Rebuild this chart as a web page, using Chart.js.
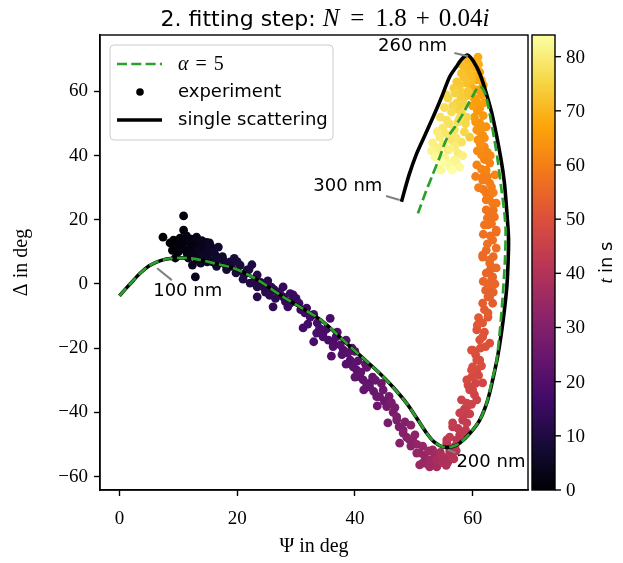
<!DOCTYPE html>
<html>
<head>
<meta charset="utf-8">
<script src="https://cdn.jsdelivr.net/npm/chart.js@4.4.0/dist/chart.umd.min.js"></script>
<style>
  html, body { margin: 0; padding: 0; background: #fff; }
  canvas { display: block; }
</style>
</head>
<body>
<canvas id="chart" width="623" height="563" style="width:623px;height:563px"></canvas>
<script>
// ---- values ----
const xTicks = [0, 20, 40, 60];
const yTicks = [-60, -40, -20, 0, 20, 40, 60];
const cbTicks = [0, 10, 20, 30, 40, 50, 60, 70, 80];
const tMax = 84;

// single scattering curve
const psiSingle = [0, 1.2, 2.4, 3.6, 5.0, 6.4, 8.0, 9.8, 11.5, 13.5, 16.0, 19.4, 23.0, 27.8, 31.0, 34.4, 38.6, 41.0, 44.2, 46.5,
  48.8, 50.5, 52.2, 53.5, 55.0, 56.5, 57.8, 59.5, 61.2, 62.5, 63.4, 64.3, 64.9, 65.4, 65.8, 66.0, 66.1, 65.9, 65.4, 64.8,
  63.4, 62.3, 61.2, 60.2, 59.2, 58.2, 57.2, 56.1, 54.8, 53.3, 51.8, 50.5, 49.2, 47.9];
const deltaSingle = [-3.7, -1.2, 1.2, 3.5, 5.6, 6.9, 7.8, 8.1, 8.1, 7.6, 6.5, 4.9, 1.8, -4.0, -7.5, -11.5, -18.5, -22.5, -27.8, -32.2,
  -37.2, -41.8, -46.5, -49.3, -50.8, -50.7, -49.6, -46.6, -42.4, -36.5, -29.9, -22.0, -15.0, -8.0, -1.0, 6.0, 13.7, 20.0, 31.4, 39.0,
  52.1, 59.5, 65.6, 69.2, 71.3, 70.2, 67.6, 64.6, 58.6, 52.1, 46.0, 40.7, 34.0, 25.6];

// alpha = 5 curve
const psiAlpha = [0, 1.2, 2.4, 3.6, 5.0, 6.4, 8.0, 9.8, 11.5, 13.5, 16.0, 19.4, 23.0, 27.8, 31.0, 34.4, 38.6, 41.0, 44.2, 46.5,
  48.8, 50.5, 52.2, 53.5, 55.0, 56.5, 57.8, 59.5, 61.2, 62.4, 63.3, 64.0, 64.6, 65.1, 65.5, 65.6, 65.4, 64.9, 64.3, 63.7,
  63.0, 62.3, 61.6, 60.9, 60.2, 59.3, 58.4, 57.0, 55.5, 54.4, 53.3, 52.0, 50.7];
const deltaAlpha = [-3.7, -1.2, 1.2, 3.5, 5.6, 6.9, 7.8, 8.1, 8.1, 7.6, 6.5, 4.9, 1.8, -4.0, -7.5, -11.5, -18.5, -22.5, -27.8, -32.2,
  -37.2, -41.8, -46.5, -49.3, -50.8, -50.7, -49.6, -46.6, -42.4, -37.0, -30.0, -24.7, -15.0, -4.0, 8.0, 16.8, 22.0, 29.3, 38.0, 44.9,
  52.0, 58.3, 61.2, 61.3, 59.2, 56.3, 53.2, 49.0, 44.9, 39.5, 34.5, 28.5, 22.0];

// experiment (Psi, Delta, time in s)
const psiExp = [7.4, 9.2, 8.6, 10.9, 10.9, 9.7, 10.3, 10.7, 10.0, 9.5, 11.4, 12.2, 11.2, 12.0, 13.1, 13.7, 12.7, 11.7, 13.6, 14.4,
  13.2, 12.4, 12.9, 14.0, 14.2, 15.1, 15.8, 15.3, 16.3, 14.9, 15.8, 16.8, 17.5, 16.5, 17.6, 18.8, 18.2, 19.5, 20.5, 19.8,
  21.7, 21.0, 22.5, 22.2, 23.4, 23.4, 23.4, 24.5, 25.2, 25.5, 26.1, 26.3, 27.8, 27.8, 28.6, 29.5, 29.0, 29.5, 30.5, 31.5,
  31.2, 32.4, 33.5, 33.6, 34.6, 35.8, 34.6, 36.3, 36.3, 37.0, 38.0, 38.5, 39.2, 39.7, 40.3, 40.0, 40.8, 41.4, 42.0, 42.5,
  42.5, 43.7, 43.5, 44.2, 44.8, 45.4, 45.6, 46.2, 47.1, 47.1, 48.2, 47.6, 48.2, 49.3, 49.8, 49.5, 50.5, 51.0, 51.5, 51.0,
  53.2, 52.7, 52.7, 53.9, 53.9, 54.9, 54.9, 55.5, 56.1, 56.1, 56.8, 55.6, 55.6, 57.3, 56.1, 56.6, 58.3, 56.6, 58.3, 59.0,
  57.8, 59.0, 59.0, 58.1, 60.7, 59.5, 60.0, 61.7, 59.0, 59.8, 60.7, 59.8, 61.2, 60.0, 60.7, 60.0, 59.8, 62.9, 61.2, 61.7,
  60.7, 60.8, 61.2, 61.7, 62.6, 62.6, 61.7, 63.4, 62.9, 62.6, 62.9, 62.6, 63.2, 63.4, 62.3, 64.0, 62.9, 62.9, 61.7, 61.7,
  64.0, 63.4, 64.0, 64.0, 62.6, 62.0, 63.7, 62.9, 62.3, 64.0, 63.4, 62.3, 62.3, 63.2, 62.9, 61.7, 61.7, 62.3, 60.7, 62.9,
  61.5, 62.0, 60.9, 61.7, 60.7, 61.2, 60.3, 61.2, 60.7, 61.5, 61.2, 60.9, 60.7, 60.3, 60.0, 59.8, 58.6, 59.5, 58.1, 59.0,
  57.3, 59.5, 57.8, 57.3, 55.8, 58.1, 58.6, 56.4, 57.5, 55.6, 56.9, 58.1, 54.9, 56.4, 54.4, 55.8, 57.5, 53.9, 56.9, 55.3,
  57.8, 53.6, 56.5,
  9.0, 11.0, 12.5, 13.5, 14.8, 15.5, 16.0, 11.5, 12.8, 14.0, 15.0, 16.8, 13.8, 10.5, 12.0,
  18.0, 19.0, 20.0, 21.2, 22.0, 23.0, 24.0, 24.8, 25.8, 26.5, 27.2, 28.2, 29.0, 30.0, 30.8, 31.8,
  32.0, 33.0, 34.0, 35.2, 35.5, 36.8, 37.5, 37.8, 38.8, 39.5, 40.5, 41.0, 41.8, 42.0, 43.0, 43.2, 44.5, 45.0, 45.8, 46.5,
  46.8, 47.5, 48.5, 48.8,
  49.5, 50.2, 50.5, 51.5, 51.8, 52.2, 52.5, 53.0, 53.5, 54.2, 54.5, 55.2, 55.8, 56.5, 57.2, 57.0,
  57.8, 57.5, 58.8, 58.5, 59.5, 58.6, 59.8, 60.3, 59.2, 60.5, 61.0, 60.3, 61.5, 60.5, 61.3, 62.2, 62.0, 61.0, 62.0, 62.2,
  63.5, 63.8, 61.8, 63.0, 63.5, 62.3,
  62.5, 63.0, 61.8, 63.2, 62.5, 63.5, 62.8, 61.8, 63.5, 62.5, 61.5, 62.0, 60.8, 62.5, 61.3, 62.0, 61.6, 60.5, 61.8, 60.8,
  62.0, 60.2,
  61.8, 60.2, 59.3, 61.0, 58.5, 59.8, 58.9, 57.8, 59.2,
  57.0, 56.6, 57.8, 56.0, 55.2, 57.2, 55.0, 54.2, 56.2, 57.2, 55.8, 54.7,
  58.0, 56.8, 58.8, 57.5, 55.2, 54.5, 56.0, 53.2, 54.0, 58.8, 58.5, 59.6, 60.0, 58.0, 61.5, 59.0, 55.5, 57.0, 58.3, 54.6,
  53.0, 56.2,
  61.0, 60.5, 63.8, 63.0, 61.2, 62.3, 60.0, 61.0,
  36.0, 38.5, 41.5, 43.8, 40.0, 33.0];
const deltaExp = [14.6, 13.7, 12.8, 21.2, 16.8, 12.1, 14.3, 12.5, 10.0, 8.1, 15.0, 14.0, 10.6, 11.2, 14.6, 12.8, 10.0, 8.1, 10.6, 11.2,
  7.5, 5.9, 2.2, 13.5, 8.7, 10.0, 10.9, 12.8, 9.0, 6.9, 6.9, 11.5, 8.5, 5.5, 7.5, 6.9, 4.5, 8.0, 5.9, 3.5,
  4.4, 1.5, 6.0, 0.3, 2.8, -0.9, -4.0, -1.0, 1.0, -3.5, -7.1, -1.8, -4.0, -0.9, -7.1, -3.4, -6.0, -5.0, -6.0, -9.0,
  -13.7, -10.3, -15.3, -12.1, -15.3, -10.7, -16.5, -18.4, -19.5, -15.0, -20.5, -17.5, -23.7, -25.8, -26.8, -21.0, -28.9, -29.9, -26.0, -30.9,
  -32.1, -35.1, -30.0, -35.1, -33.0, -38.2, -43.3, -37.0, -41.4, -42.4, -45.5, -49.6, -46.5, -48.6, -48.6, -44.0, -52.7, -52.6, -55.8, -56.4,
  -51.7, -54.8, -57.0, -57.0, -54.8, -55.5, -53.9, -56.5, -51.7, -52.7, -54.5, -49.6, -48.6, -48.6, -47.7, -44.5, -46.4, -43.3, -42.4, -43.3,
  -40.2, -38.3, -37.1, -36.1, -36.1, -33.0, -33.0, -30.8, -29.9, -29.0, -26.8, -26.8, -23.7, -25.8, -23.7, -20.6, -20.6, -18.4, -17.4, -16.5,
  -14.3, -12.8, -12.2, -12.1, -10.3, -9.0, -6.0, -6.0, -4.0, -4.0, -0.9, -0.3, 1.2, 2.2, 3.4, 5.0, 6.5, 7.5, 8.4, 9.0,
  11.2, 13.7, 16.2, 16.8, 18.4, 18.4, 20.9, 22.4, 23.1, 25.2, 25.2, 26.2, 28.3, 30.2, 31.4, 32.4, 33.3, 35.5, 37.1, 37.7,
  40.2, 42.7, 44.9, 46.4, 48.0, 50.2, 52.0, 54.8, 56.7, 58.9, 66.0, 70.7, 63.6, 67.6, 61.0, 69.2, 67.6, 65.7, 65.7, 62.6,
  63.0, 45.8, 60.4, 56.4, 57.9, 53.3, 47.4, 53.6, 50.5, 51.1, 48.0, 44.2, 48.6, 44.9, 45.8, 41.7, 40.8, 42.4, 38.6, 39.2,
  36.4, 39.6, 35.5,
  10.5, 13.5, 12.5, 11.5, 13.0, 11.8, 10.0, 9.5, 8.8, 10.0, 8.0, 8.0, 6.5, 11.2, 12.8,
  6.0, 5.5, 7.0, 3.0, 4.5, 1.0, 0.5, -2.5, -1.0, -4.5, -2.5, -5.5, -3.0, -4.5, -8.0, -7.5,
  -12.5, -9.5, -13.8, -14.0, -17.5, -16.5, -19.0, -22.0, -21.5, -20.0, -24.0, -27.5, -25.0, -31.5, -29.0, -33.5, -31.0, -36.5, -35.0, -40.0,
  -38.5, -44.5, -43.0, -47.8,
  -50.5, -47.0, -50.0, -50.5, -53.5, -56.0, -52.0, -55.8, -53.0, -56.0, -52.5, -54.5, -55.5, -53.5, -52.0, -50.5,
  -47.0, -45.0, -45.5, -41.0, -40.5, -39.0, -37.5, -34.5, -31.5, -31.0, -28.5, -28.0, -25.5, -22.0, -20.0, -19.5, -15.0, -10.5, -8.0, -2.0,
  -2.5, 0.0, 0.8, 4.5, 8.5, 10.5,
  12.5, 15.0, 15.5, 18.8, 20.5, 23.0, 27.0, 29.5, 28.5, 33.5, 35.8, 38.8, 41.5, 41.0, 43.5, 45.5, 49.0, 50.5, 52.5, 54.0,
  56.5, 58.0,
  62.0, 64.5, 67.0, 68.5, 64.5, 63.5, 69.8, 62.0, 60.0,
  59.5, 55.5, 51.8, 50.0, 47.0, 45.5, 43.5, 41.0, 42.2, 38.0, 37.5, 38.0,
  58.0, 61.0, 58.5, 54.5, 55.0, 52.0, 46.5, 44.0, 47.5, 50.0, 56.0, 59.0, 65.0, 68.5, 63.5, 52.0, 59.0, 43.0, 40.0, 35.5,
  41.5, 36.5,
  30.0, 33.5, 34.0, 40.0, 47.5, 49.0, 55.5, 60.5,
  -22.5, -25.0, -33.0, -38.0, -29.0, -18.0];
const tExp = [0, 0, 0, 1, 1, 1, 1, 1, 1, 1, 2, 2, 2, 2, 3, 3, 3, 3, 4, 4,
  4, 4, 4, 4, 5, 5, 5, 5, 6, 6, 6, 7, 7, 7, 7, 8, 8, 9, 9, 9,
  10, 10, 10, 11, 11, 11, 12, 12, 12, 13, 13, 13, 14, 14, 15, 15, 15, 15, 16, 16,
  17, 17, 18, 18, 18, 18, 19, 19, 20, 20, 20, 21, 21, 22, 22, 22, 23, 23, 24, 24,
  24, 25, 25, 26, 26, 27, 28, 28, 29, 29, 30, 31, 31, 32, 32, 32, 33, 34, 34, 35,
  35, 36, 36, 37, 38, 39, 39, 39, 40, 40, 41, 41, 42, 42, 43, 43, 43, 44, 44, 44,
  45, 45, 46, 46, 46, 47, 47, 47, 48, 48, 48, 49, 49, 49, 49, 50, 50, 50, 50, 51,
  51, 51, 52, 52, 52, 53, 53, 53, 54, 54, 54, 55, 55, 55, 55, 56, 56, 56, 56, 56,
  57, 57, 57, 57, 57, 58, 58, 58, 58, 59, 59, 59, 59, 60, 60, 60, 60, 61, 61, 61,
  62, 62, 63, 63, 64, 64, 65, 65, 66, 66, 67, 68, 68, 69, 69, 70, 71, 71, 72, 72,
  73, 74, 74, 75, 76, 76, 76, 77, 77, 78, 78, 78, 79, 79, 80, 80, 80, 81, 82, 82,
  83, 83, 84,
  0, 1, 2, 3, 4, 5, 6, 2, 3, 4, 5, 7, 5, 1, 2,
  8, 8, 9, 10, 10, 11, 11, 12, 13, 13, 14, 14, 15, 15, 16, 16,
  17, 17, 18, 18, 19, 19, 20, 20, 21, 21, 22, 23, 23, 24, 24, 25, 26, 26, 27, 28,
  28, 29, 30, 31,
  32, 32, 33, 34, 34, 35, 35, 36, 36, 37, 38, 38, 39, 40, 41, 41,
  42, 43, 43, 44, 45, 45, 46, 46, 47, 47, 48, 48, 49, 49, 50, 50, 51, 52, 53, 54,
  54, 55, 55, 55, 56, 56,
  57, 57, 57, 58, 58, 58, 59, 59, 60, 60, 61, 61, 62, 62, 63, 63, 64, 64, 65, 65,
  66, 66,
  67, 68, 70, 69, 72, 71, 70, 73, 73,
  75, 76, 77, 78, 79, 79, 80, 81, 81, 82, 83, 84,
  74, 74, 73, 75, 77, 78, 79, 81, 80, 76, 75, 72, 70, 71, 68, 76, 76, 80, 81, 83,
  82, 83,
  60, 60, 61, 62, 63, 64, 66, 66,
  20, 21, 24, 26, 23, 18];

// wavelength annotations
const nmLabels = ['100 nm', '200 nm', '260 nm', '300 nm'];
// [line start, line end, text centre] in data units
const nmPlace = [
  [[8.9, 1.2], [6.4, 4.9], [11.6, -2.4]],
  [[57.1, -52.6], [55.8, -51.7], [63.1, -55.6]],
  [[56.9, 72.0], [59.2, 71.0], [49.8, 74.0]],
  [[45.3, 27.4], [47.6, 26.2], [38.8, 30.4]]
];

// matplotlib inferno, sampled every 0.1
const inferno = ['#000004', '#160b39', '#420a68', '#6a176e', '#932667', '#bc3754',
  '#dd513a', '#f37819', '#fca50a', '#f6d746', '#fcffa4'];

const GREEN = '#2ca02c';
const SERIF = '"Liberation Serif", "DejaVu Serif", serif';
const SANS = '"DejaVu Sans", sans-serif';

function hexRgb(h) {
  return [1, 3, 5].map(i => parseInt(h.substr(i, 2), 16));
}

function cmap(t) {
  const f = Math.max(0, Math.min(1, t / tMax)) * 10;
  const i = Math.min(9, Math.floor(f));
  const r = f - i;
  const a = hexRgb(inferno[i]), b = hexRgb(inferno[i + 1]);
  const c = a.map((v, k) => Math.round(v + (b[k] - v) * r));
  return `rgb(${c[0]},${c[1]},${c[2]})`;
}

function minus(v) {
  return v < 0 ? '\u2212' + Math.abs(v) : String(v);
}

// draw a row of text pieces in mixed fonts
function richText(ctx, parts, x, y, align) {
  let w = 0;
  parts.forEach(p => { ctx.font = p.f; w += ctx.measureText(p.t).width + (p.g || 0); });
  let cx = align === 'center' ? x - w / 2 : x;
  ctx.textAlign = 'left';
  parts.forEach(p => {
    ctx.font = p.f;
    ctx.fillText(p.t, cx, y);
    cx += ctx.measureText(p.t).width + (p.g || 0);
  });
}

// later measurements are drawn on top
const order = tExp.map((t, i) => i).sort((a, b) => tExp[a] - tExp[b]);

const decor = {
  id: 'decor',
  afterDatasetsDraw(chart) {
    const { ctx, scales: { x, y } } = chart;
    ctx.save();
    ctx.strokeStyle = '#808080';
    ctx.lineWidth = 2;
    ctx.fillStyle = '#000';
    ctx.font = '18px ' + SANS;
    ctx.textAlign = 'center';
    ctx.textBaseline = 'middle';
    nmLabels.forEach((lab, i) => {
      const [a, b, c] = nmPlace[i];
      ctx.beginPath();
      ctx.moveTo(x.getPixelForValue(a[0]), y.getPixelForValue(a[1]));
      ctx.lineTo(x.getPixelForValue(b[0]), y.getPixelForValue(b[1]));
      ctx.stroke();
      ctx.fillText(lab, x.getPixelForValue(c[0]), y.getPixelForValue(c[1]));
    });
    ctx.restore();
  },
  afterDraw(chart) {
    const { ctx, chartArea: ca } = chart;
    ctx.save();

    // full frame
    ctx.strokeStyle = '#000';
    ctx.lineWidth = 1.4;
    ctx.strokeRect(ca.left, ca.top, ca.right - ca.left, ca.bottom - ca.top);

    // legend
    const lx = 110, ly = 45, lw = 223, lh = 95;
    ctx.beginPath();
    ctx.roundRect(lx, ly, lw, lh, 4);
    ctx.fillStyle = 'rgba(255,255,255,0.8)';
    ctx.fill();
    ctx.strokeStyle = '#cccccc';
    ctx.lineWidth = 1;
    ctx.stroke();

    const rows = [64, 92, 120];
    ctx.strokeStyle = GREEN;
    ctx.lineWidth = 2.7;
    ctx.setLineDash([10, 4.3]);
    ctx.beginPath(); ctx.moveTo(117, rows[0]); ctx.lineTo(162, rows[0]); ctx.stroke();
    ctx.setLineDash([]);
    ctx.fillStyle = '#000';
    ctx.beginPath(); ctx.arc(140, rows[1], 3.8, 0, Math.PI * 2); ctx.fill();
    ctx.strokeStyle = '#000';
    ctx.lineWidth = 3.6;
    ctx.beginPath(); ctx.moveTo(117, rows[2]); ctx.lineTo(162, rows[2]); ctx.stroke();

    ctx.textBaseline = 'alphabetic';
    richText(ctx, [{ t: '\u03b1', f: 'italic 20px ' + SERIF, g: 7 }, { t: '=', f: '20px ' + SERIF, g: 7 },
      { t: '5', f: '20px ' + SERIF }], 178, rows[0] + 6, 'left');
    richText(ctx, [{ t: 'experiment', f: '18px ' + SANS }], 178, rows[1] + 5, 'left');
    richText(ctx, [{ t: 'single scattering', f: '18px ' + SANS }], 178, rows[2] + 5, 'left');

    // colour bar
    const cx0 = 532, cx1 = 555, ct = ca.top, cb = ca.bottom;
    const grad = ctx.createLinearGradient(0, cb, 0, ct);
    inferno.forEach((c, i) => grad.addColorStop(i / 10, c));
    ctx.fillStyle = grad;
    ctx.fillRect(cx0, ct, cx1 - cx0, cb - ct);
    ctx.strokeStyle = '#000';
    ctx.lineWidth = 1.4;
    ctx.strokeRect(cx0, ct, cx1 - cx0, cb - ct);
    ctx.fillStyle = '#000';
    ctx.font = '19px ' + SERIF;
    ctx.textAlign = 'left';
    ctx.textBaseline = 'middle';
    cbTicks.forEach(v => {
      const py = cb - v / tMax * (cb - ct);
      ctx.beginPath(); ctx.moveTo(cx1, py); ctx.lineTo(cx1 + 6, py); ctx.stroke();
      ctx.fillText(String(v), cx1 + 11, py + 1);
    });
    ctx.save();
    ctx.translate(612, (ct + cb) / 2);
    ctx.rotate(-Math.PI / 2);
    ctx.textBaseline = 'alphabetic';
    richText(ctx, [{ t: 't', f: 'italic 19px ' + SERIF, g: 5 }, { t: 'in s', f: '18px ' + SANS }], 0, 0, 'center');
    ctx.restore();

    // title
    ctx.fillStyle = '#000';
    ctx.textBaseline = 'alphabetic';
    richText(ctx, [
      { t: '2. fitting step: ', f: '22px ' + SANS },
      { t: 'N', f: 'italic 25px ' + SERIF, g: 11 },
      { t: '=', f: '25px ' + SERIF, g: 11 },
      { t: '1.8', f: '25px ' + SERIF, g: 9 },
      { t: '+', f: '25px ' + SERIF, g: 9 },
      { t: '0.04', f: '25px ' + SERIF },
      { t: 'i', f: 'italic 25px ' + SERIF }
    ], 325, 26, 'center');

    ctx.restore();
  }
};

const ctx = document.getElementById('chart').getContext('2d');

new Chart(ctx, {
  type: 'scatter',
  data: {
    datasets: [
      {
        label: '\u03b1 = 5',
        data: psiAlpha.map((v, i) => ({ x: v, y: deltaAlpha[i] })),
        showLine: true,
        borderColor: GREEN,
        borderWidth: 2.7,
        borderDash: [10, 4.3],
        tension: 0.3,
        pointRadius: 0,
        fill: false
      },
      {
        label: 'single scattering',
        data: psiSingle.map((v, i) => ({ x: v, y: deltaSingle[i] })),
        showLine: true,
        borderColor: '#000',
        borderWidth: 3.6,
        tension: 0.3,
        borderJoinStyle: 'round',
        pointRadius: 0,
        fill: false
      },
      {
        label: 'experiment',
        data: order.map(i => ({ x: psiExp[i], y: deltaExp[i] })),
        backgroundColor: order.map(i => cmap(tExp[i])),
        borderWidth: 0,
        pointRadius: 4.4
      }
    ]
  },
  options: {
    responsive: false,
    animation: false,
    events: [],
    layout: { padding: { top: 35, right: 95, bottom: 0, left: 0 } },
    plugins: { legend: { display: false }, tooltip: { enabled: false } },
    scales: {
      x: {
        type: 'linear',
        min: -3.3,
        max: 69.4,
        afterBuildTicks: s => { s.ticks = xTicks.map(v => ({ value: v })); },
        afterFit: s => { s.height = 73; },
        grid: { drawOnChartArea: false, drawTicks: true, tickLength: 6, tickWidth: 1.4, tickColor: '#000' },
        border: { display: true, color: '#000', width: 1.4 },
        ticks: { color: '#000', font: { family: SERIF, size: 19 }, padding: 12, maxRotation: 0, autoSkip: false,
          callback: v => minus(v) },
        title: { display: true, text: '\u03a8 in deg', color: '#000', font: { family: SERIF, size: 20 },
          padding: { top: 0, bottom: 4 } }
      },
      y: {
        type: 'linear',
        min: -64.2,
        max: 77.6,
        afterBuildTicks: s => { s.ticks = yTicks.map(v => ({ value: v })); },
        afterFit: s => { s.width = 100; },
        grid: { drawOnChartArea: false, drawTicks: true, tickLength: 6, tickWidth: 1.4, tickColor: '#000' },
        border: { display: true, color: '#000', width: 1.4 },
        ticks: { color: '#000', font: { family: SERIF, size: 19 }, padding: 6, autoSkip: false,
          callback: v => minus(v) },
        title: { display: true, text: '\u0394 in deg', color: '#000', font: { family: SERIF, size: 20 },
          padding: { top: 10, bottom: 0 } }
      }
    }
  },
  plugins: [decor]
});
</script>
</body>
</html>
